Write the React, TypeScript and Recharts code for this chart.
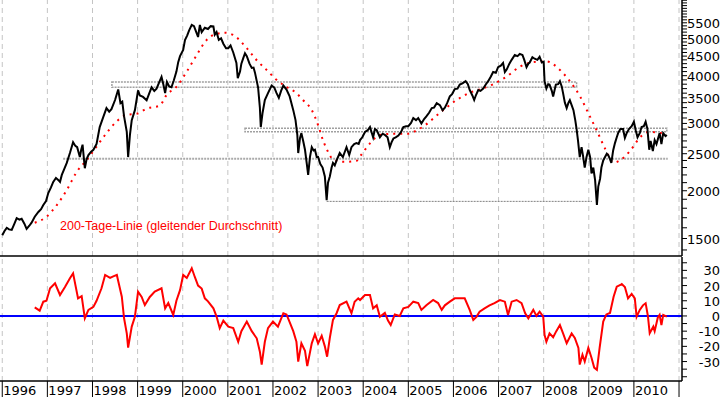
import { LineChart, Line, XAxis, YAxis, ReferenceLine, ReferenceArea } from "recharts";

// Euro Stoxx 50, 200-Tage-Linie und Abstand in %
const years = [1996, 1997, 1998, 1999, 2000, 2001, 2002, 2003, 2004, 2005, 2006, 2007, 2008, 2009, 2010, 2011];

const price: [number, number][] = [
  [1996.0, 1530], [1996.05, 1570], [1996.1, 1600], [1996.15, 1585], [1996.21, 1580], [1996.27, 1640],
  [1996.32, 1695], [1996.38, 1680], [1996.43, 1690], [1996.49, 1640], [1996.54, 1590], [1996.6, 1620],
  [1996.65, 1650], [1996.72, 1710], [1996.8, 1760], [1996.86, 1790], [1996.91, 1835], [1996.97, 1880],
  [1997.02, 1972], [1997.08, 2040], [1997.13, 2110], [1997.19, 2160], [1997.24, 2135], [1997.28, 2110],
  [1997.32, 2200], [1997.38, 2290], [1997.43, 2365], [1997.5, 2510], [1997.57, 2680], [1997.62, 2620],
  [1997.66, 2600], [1997.72, 2450], [1997.75, 2560], [1997.78, 2640], [1997.83, 2290], [1997.87, 2420],
  [1997.91, 2480], [1997.97, 2530], [1998.02, 2560], [1998.09, 2650], [1998.16, 2935], [1998.24, 3120],
  [1998.31, 3290], [1998.37, 3220], [1998.42, 3270], [1998.5, 3454], [1998.57, 3680], [1998.62, 3390],
  [1998.66, 3420], [1998.7, 3130], [1998.76, 2850], [1998.79, 2450], [1998.83, 2800], [1998.87, 3060],
  [1998.94, 3250], [1999.01, 3660], [1999.05, 3550], [1999.12, 3520], [1999.2, 3450], [1999.26, 3600],
  [1999.31, 3730], [1999.37, 3650], [1999.42, 3700], [1999.48, 3850], [1999.53, 3970], [1999.57, 3800],
  [1999.61, 3600], [1999.65, 3850], [1999.7, 3750], [1999.75, 3730], [1999.8, 3880], [1999.86, 4100],
  [1999.9, 4340], [1999.94, 4500], [2000.01, 4670], [2000.05, 4960], [2000.1, 5100], [2000.14, 5250],
  [2000.2, 5430], [2000.25, 5390], [2000.3, 5200], [2000.34, 5050], [2000.38, 5430], [2000.42, 5200],
  [2000.49, 5340], [2000.56, 5300], [2000.62, 5390], [2000.68, 5380], [2000.71, 5120], [2000.75, 5200],
  [2000.8, 4960], [2000.85, 5010], [2000.9, 4850], [2000.96, 4720], [2001.01, 4720], [2001.06, 4800],
  [2001.12, 4600], [2001.19, 4320], [2001.22, 3940], [2001.27, 4100], [2001.3, 4300], [2001.34, 4440],
  [2001.38, 4580], [2001.42, 4500], [2001.48, 4300], [2001.53, 4190], [2001.57, 4200], [2001.6, 4080],
  [2001.67, 3730], [2001.71, 3300], [2001.73, 2935], [2001.77, 3200], [2001.82, 3454], [2001.89, 3600],
  [2001.97, 3770], [2002.03, 3720], [2002.08, 3600], [2002.13, 3500], [2002.18, 3650], [2002.23, 3770],
  [2002.3, 3680], [2002.37, 3530], [2002.45, 3250], [2002.5, 3060], [2002.54, 2800], [2002.56, 2510],
  [2002.6, 2750], [2002.63, 2830], [2002.67, 2700], [2002.71, 2560], [2002.75, 2350], [2002.78, 2200],
  [2002.82, 2450], [2002.86, 2600], [2002.9, 2550], [2002.93, 2560], [2002.97, 2450], [2003.0, 2450],
  [2003.05, 2350], [2003.1, 2300], [2003.15, 2180], [2003.19, 1891], [2003.22, 2100], [2003.26, 2180],
  [2003.3, 2300], [2003.33, 2365], [2003.37, 2330], [2003.41, 2400], [2003.48, 2510], [2003.55, 2450],
  [2003.63, 2600], [2003.69, 2480], [2003.74, 2600], [2003.8, 2650], [2003.85, 2665], [2003.9, 2650],
  [2003.93, 2714], [2003.98, 2760], [2004.04, 2850], [2004.1, 2880], [2004.15, 2935], [2004.22, 2760],
  [2004.26, 2900], [2004.3, 2880], [2004.37, 2760], [2004.43, 2820], [2004.48, 2800], [2004.54, 2760],
  [2004.59, 2600], [2004.63, 2680], [2004.67, 2740], [2004.72, 2760], [2004.78, 2790], [2004.84, 2850],
  [2004.89, 2935], [2004.95, 2950], [2005.0, 2950], [2005.06, 3010], [2005.11, 3100], [2005.17, 3060],
  [2005.22, 3100], [2005.29, 3000], [2005.35, 3080], [2005.4, 3130], [2005.46, 3200], [2005.52, 3290],
  [2005.57, 3300], [2005.63, 3390], [2005.7, 3350], [2005.76, 3250], [2005.81, 3300], [2005.86, 3390],
  [2005.92, 3530], [2005.97, 3580], [2006.03, 3690], [2006.09, 3700], [2006.14, 3790], [2006.2, 3820],
  [2006.27, 3870], [2006.32, 3800], [2006.36, 3670], [2006.42, 3550], [2006.46, 3454], [2006.5, 3560],
  [2006.55, 3670], [2006.6, 3650], [2006.66, 3700], [2006.72, 3800], [2006.77, 3870], [2006.83, 3980],
  [2006.88, 4090], [2006.94, 4070], [2006.99, 4210], [2007.05, 4250], [2007.1, 4320], [2007.14, 4090],
  [2007.18, 4150], [2007.24, 4300], [2007.29, 4400], [2007.36, 4530], [2007.42, 4500], [2007.47, 4560],
  [2007.53, 4530], [2007.57, 4400], [2007.62, 4210], [2007.66, 4300], [2007.69, 4330], [2007.75, 4470],
  [2007.8, 4430], [2007.86, 4400], [2007.91, 4480], [2007.96, 4330], [2008.0, 4350], [2008.02, 3870],
  [2008.06, 3700], [2008.1, 3800], [2008.13, 3790], [2008.18, 3650], [2008.21, 3530], [2008.27, 3790],
  [2008.32, 3800], [2008.36, 3870], [2008.4, 3750], [2008.43, 3600], [2008.47, 3400], [2008.51, 3290],
  [2008.55, 3400], [2008.58, 3450], [2008.62, 3350], [2008.66, 3250], [2008.7, 3060], [2008.73, 2900],
  [2008.76, 2714], [2008.8, 2450], [2008.84, 2600], [2008.87, 2480], [2008.91, 2300], [2008.95, 2450],
  [2008.99, 2560], [2009.03, 2450], [2009.06, 2220], [2009.1, 2300], [2009.14, 2133], [2009.18, 1835],
  [2009.21, 2050], [2009.25, 2150], [2009.28, 2300], [2009.32, 2400], [2009.36, 2450], [2009.4, 2500],
  [2009.43, 2480], [2009.47, 2420], [2009.5, 2365], [2009.54, 2550], [2009.58, 2665], [2009.62, 2760],
  [2009.65, 2830], [2009.7, 2900], [2009.76, 2900], [2009.8, 2750], [2009.84, 2830], [2009.89, 2900],
  [2009.95, 2950], [2010.0, 3030], [2010.04, 2880], [2010.08, 2760], [2010.13, 2830], [2010.17, 2935],
  [2010.22, 2950], [2010.26, 3030], [2010.3, 2900], [2010.34, 2560], [2010.37, 2700], [2010.42, 2540],
  [2010.46, 2714], [2010.5, 2650], [2010.57, 2830], [2010.61, 2650], [2010.65, 2830], [2010.7, 2780],
  [2010.73, 2800],
];

const ma200: [number, number][] = [
  [1996.72, 1650], [1996.98, 1710], [1997.21, 1835], [1997.43, 2008], [1997.65, 2240], [1997.87, 2406],
  [1998.09, 2610], [1998.31, 2830], [1998.54, 3040], [1998.76, 3160], [1998.98, 3180], [1999.2, 3280],
  [1999.49, 3340], [1999.64, 3560], [1999.86, 3740], [2000.09, 4100], [2000.31, 4530], [2000.53, 4960],
  [2000.75, 5150], [2000.93, 5180], [2001.12, 5110], [2001.42, 4720], [2001.64, 4390], [2001.86, 4140],
  [2002.08, 3900], [2002.3, 3740], [2002.52, 3600], [2002.67, 3450], [2002.86, 3250], [2003.0, 2970],
  [2003.11, 2710], [2003.22, 2530], [2003.33, 2415], [2003.56, 2380], [2003.85, 2395], [2003.93, 2460],
  [2004.15, 2660], [2004.37, 2800], [2004.67, 2820], [2004.96, 2820], [2005.26, 2910], [2005.77, 3250],
  [2006.07, 3454], [2006.36, 3610], [2006.58, 3680], [2006.88, 3800], [2007.18, 3980], [2007.47, 4220],
  [2007.77, 4340], [2008.06, 4360], [2008.36, 4140], [2008.58, 3870], [2008.8, 3540], [2009.03, 3120],
  [2009.18, 2870], [2009.36, 2580], [2009.55, 2370], [2009.7, 2406], [2009.93, 2556], [2010.15, 2770],
  [2010.33, 2850], [2010.73, 2810],
];

const deviation: [number, number][] = [
  [1996.72, 5.7], [1996.83, 3.5], [1996.91, 9.4], [1996.98, 10], [1997.06, 18.2], [1997.17, 21.5],
  [1997.28, 13.8], [1997.39, 19], [1997.5, 24.8], [1997.57, 28], [1997.68, 11.6], [1997.76, 13],
  [1997.83, -1.5], [1997.91, 4], [1998.02, 6], [1998.09, 10], [1998.2, 18.2], [1998.28, 27],
  [1998.39, 25], [1998.46, 26], [1998.54, 27], [1998.57, 23], [1998.65, 12.7], [1998.7, -1.5],
  [1998.76, -11.4], [1998.79, -20.8], [1998.87, -7], [1998.94, -0.5], [1999.01, 16], [1999.09, 12.5],
  [1999.16, 7.2], [1999.27, 12.5], [1999.38, 16], [1999.53, 18.2], [1999.61, 5], [1999.68, 8.5],
  [1999.79, 0.7], [1999.86, 10], [1999.94, 17], [2000.01, 27], [2000.09, 25], [2000.2, 31.4],
  [2000.27, 25.5], [2000.34, 20], [2000.42, 18], [2000.49, 11.6], [2000.56, 9.6], [2000.68, 5],
  [2000.75, -0.4], [2000.82, -8], [2000.9, -3], [2001.01, -7], [2001.12, -8], [2001.23, -17],
  [2001.3, -10], [2001.42, -3.7], [2001.53, -10], [2001.64, -14.7], [2001.71, -23.5], [2001.75, -32],
  [2001.82, -17], [2001.89, -8], [2002.0, -3.7], [2002.11, -7], [2002.23, 1.8], [2002.3, 1],
  [2002.37, -4], [2002.45, -10], [2002.52, -17], [2002.56, -30], [2002.63, -18], [2002.71, -23],
  [2002.76, -33], [2002.86, -18], [2002.93, -12], [2003.0, -18], [2003.08, -13], [2003.15, -20],
  [2003.2, -26.8], [2003.26, -14.5], [2003.33, -2.6], [2003.41, 1.8], [2003.48, 7.2], [2003.63, 9.4],
  [2003.74, 1.8], [2003.81, 9.4], [2003.89, 11.6], [2003.93, 10.5], [2004.04, 13.8], [2004.15, 13.8],
  [2004.22, 5], [2004.3, 7], [2004.37, -0.5], [2004.48, 2], [2004.55, -3], [2004.61, -6],
  [2004.7, 1], [2004.81, 0], [2004.89, 5], [2005.0, 6], [2005.11, 9.4], [2005.22, 8.5],
  [2005.29, 4], [2005.4, 7], [2005.55, 10.5], [2005.66, 8.5], [2005.74, 4], [2005.81, 7],
  [2005.92, 9.4], [2006.03, 11.6], [2006.14, 11.6], [2006.25, 11.6], [2006.36, 4], [2006.44, -2.6],
  [2006.51, -0.6], [2006.58, 2.8], [2006.69, 5], [2006.8, 7], [2006.91, 8.5], [2007.03, 10.5],
  [2007.14, 9.4], [2007.21, 0.7], [2007.29, 9.4], [2007.4, 10.5], [2007.51, 8.5], [2007.59, 1.8],
  [2007.66, -1.5], [2007.77, 4], [2007.84, 0], [2007.91, 2.8], [2007.99, -0.5], [2008.02, -12.5],
  [2008.06, -17], [2008.13, -11.5], [2008.21, -14], [2008.28, -10], [2008.36, -6], [2008.43, -11.5],
  [2008.51, -18], [2008.62, -11.5], [2008.69, -14.5], [2008.77, -21], [2008.8, -32], [2008.86, -25.5],
  [2008.91, -30], [2008.99, -21], [2009.06, -27.5], [2009.12, -34], [2009.18, -35.5], [2009.24, -21],
  [2009.32, -3.7], [2009.39, 1], [2009.47, 2], [2009.55, 12.7], [2009.62, 19.3], [2009.7, 20.4],
  [2009.73, 21], [2009.8, 19], [2009.87, 11.6], [2009.95, 14.5], [2010.02, 11.6], [2010.06, -0.5],
  [2010.13, 4], [2010.2, 7], [2010.26, 8.4], [2010.31, 0], [2010.35, -11.4], [2010.43, -7],
  [2010.46, -10], [2010.53, -1], [2010.57, 0.7], [2010.61, -6], [2010.65, 0.7], [2010.73, -0.4],
];

// Widerstands-/Unterstützungszonen
const bands = [
  { from: 1998.43, to: 2008.73, low: 3730, high: 3850 },
  { from: 2001.38, to: 2010.73, low: 2855, high: 2913 },
];
const supports = [
  { from: 1997.35, to: 2010.75, level: 2424, color: "#aaaaaa", width: 2 },
  { from: 2003.19, to: 2009.07, level: 1876, color: "#808080", width: 1 },
];

const priceLabels = [1500, 2000, 2500, 3000, 3500, 4000, 4500, 5000, 5500];
const devLabels = [-30, -20, -10, 0, 10, 20, 30];

const X_DOMAIN: [number, number] = [1995.95, 2011.066];
const PRICE_DOMAIN: [number, number] = [1350, 6310];
const DEV_DOMAIN: [number, number] = [-42.8, 38.8];

const priceTicks = Array.from({ length: 50 }, (_, i) => 1400 + i * 100);
const devTicks = Array.from({ length: 16 }, (_, i) => -40 + i * 5);

const FONT = "'DejaVu Sans', sans-serif";

const priceTick = (props: any) => {
  const { x, y, payload } = props;
  if (!priceLabels.includes(payload.value)) return <g />;
  return (
    <text x={x + 31} y={y + 5} textAnchor="end" fontSize={13} fontFamily={FONT} fill="#000">
      {payload.value}
    </text>
  );
};

const devTick = (props: any) => {
  const { x, y, payload } = props;
  if (!devLabels.includes(payload.value)) return <g />;
  return (
    <text x={x + 31} y={y + 5} textAnchor="end" fontSize={13} fontFamily={FONT} fill="#000">
      {payload.value}
    </text>
  );
};

const yearTick = (props: any) => {
  const { x, y, payload } = props;
  return (
    <g>
      <line x1={x} x2={x} y1={y} y2={y + 16} stroke="#000" strokeWidth={1} />
      {payload.value < 2011 && (
        <text x={x + 1} y={y + 14} fontSize={13} fontFamily={FONT} fill="#000">
          {payload.value}
        </text>
      )}
    </g>
  );
};

const gridLines = years.map((yr) => (
  <ReferenceLine key={yr} x={yr} stroke="#c4c4c4" strokeDasharray="5 4" ifOverflow="visible" />
));

export default function App() {
  const priceData = price.map(([t, v]) => ({ t, v }));
  const maData = ma200.map(([t, v]) => ({ t, v }));
  const devData = deviation.map(([t, v]) => ({ t, v }));

  return (
    <div style={{ position: "absolute", left: 0, top: 0, width: 723, height: 397, background: "#fff", overflow: "hidden" }}>
      <div style={{ position: "absolute", left: 0, top: 0 }}>
        <LineChart width={723} height={257} data={priceData} margin={{ top: 0, right: 0, bottom: 0, left: 0 }}>
          <XAxis dataKey="t" type="number" domain={X_DOMAIN} allowDataOverflow height={1} tick={false} tickLine={false} axisLine={{ stroke: "#000", strokeWidth: 1.5 }} />
          <YAxis
            orientation="right"
            width={41}
            scale="log"
            domain={PRICE_DOMAIN}
            allowDataOverflow
            ticks={priceTicks}
            interval={0}
            tickSize={5}
            tickMargin={2}
            tick={priceTick}
            tickLine={{ stroke: "#000" }}
            axisLine={{ stroke: "#000", strokeWidth: 1.5 }}
          />
          {gridLines}
          {bands.map((b, i) => (
            <ReferenceArea key={i} x1={b.from} x2={b.to} y1={b.low} y2={b.high} fill="none" stroke="#a0a0a0" strokeWidth={1.5} strokeDasharray="2 1" ifOverflow="visible" />
          ))}
          {supports.map((s, i) => (
            <ReferenceLine key={i} segment={[{ x: s.from, y: s.level }, { x: s.to, y: s.level }]} stroke={s.color} strokeWidth={s.width} strokeDasharray="2 1" />
          ))}
          <Line data={maData} dataKey="v" type="monotone" stroke="#ff0000" strokeWidth={2} strokeDasharray="2 5" dot={false} activeDot={false} legendType="none" isAnimationActive={false} />
          <Line dataKey="v" type="linear" stroke="#000" strokeWidth={2} dot={false} activeDot={false} legendType="none" isAnimationActive={false} />
        </LineChart>
      </div>
      <div style={{ position: "absolute", left: 60, top: 219, color: "#ff0000", fontFamily: "'Liberation Sans', Arial, sans-serif", fontSize: 12.5, whiteSpace: "nowrap" }}>
        200-Tage-Linie (gleitender Durchschnitt)
      </div>
      <div style={{ position: "absolute", left: 0, top: 257 }}>
        <LineChart width={723} height={140} data={devData} margin={{ top: 0, right: 0, bottom: 0, left: 0 }}>
          <XAxis
            dataKey="t"
            type="number"
            domain={X_DOMAIN}
            allowDataOverflow
            ticks={years}
            interval={0}
            height={16}
            tickSize={0}
            tickMargin={0}
            tickLine={false}
            tick={yearTick}
            axisLine={{ stroke: "#000", strokeWidth: 1.5 }}
          />
          <YAxis
            orientation="right"
            width={41}
            domain={DEV_DOMAIN}
            allowDataOverflow
            ticks={devTicks}
            interval={0}
            tickSize={5}
            tickMargin={2}
            tick={devTick}
            tickLine={{ stroke: "#000" }}
            axisLine={{ stroke: "#000", strokeWidth: 1.5 }}
          />
          {gridLines}
          <ReferenceLine y={0} stroke="#0000ff" strokeWidth={2} />
          <Line dataKey="v" type="linear" stroke="#ff0000" strokeWidth={2} dot={false} activeDot={false} legendType="none" isAnimationActive={false} />
        </LineChart>
      </div>
    </div>
  );
}
